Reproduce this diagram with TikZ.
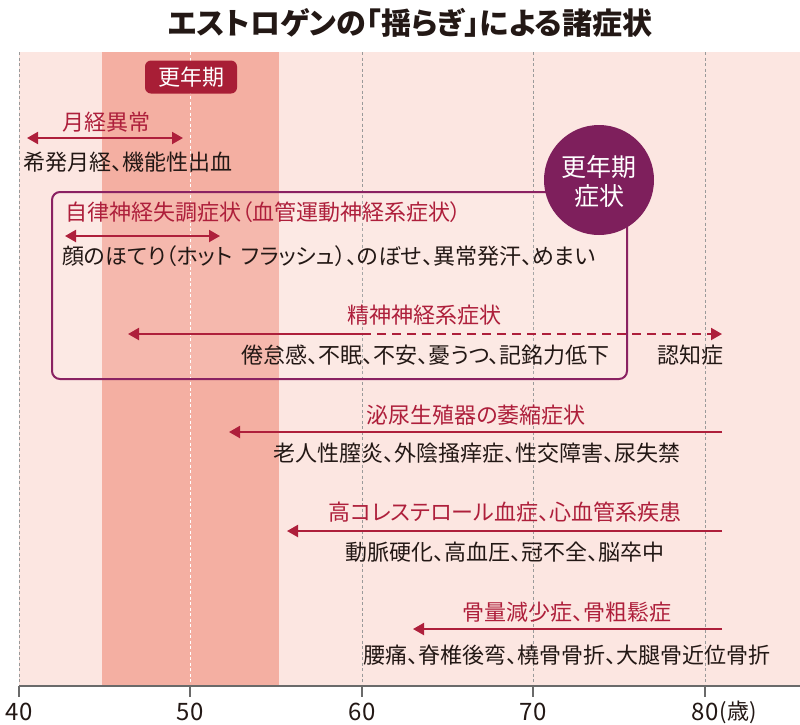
\documentclass[tikz,border=0pt]{standalone}
\usepackage{fontspec}
\setmainfont{Noto Sans CJK JP}[RawFeature=+palt]
\usetikzlibrary{arrows.meta,calc}
\definecolor{bgpink}{HTML}{FCE6E1}
\definecolor{bandc}{HTML}{F4AFA2}
\definecolor{redc}{HTML}{AE1F3B}
\definecolor{lblred}{HTML}{A81E36}
\definecolor{purp}{HTML}{7E1F5C}
\definecolor{boxc}{HTML}{8A2262}
\definecolor{txtc}{HTML}{231815}
\definecolor{gridc}{HTML}{9A9A9A}
\definecolor{axisc}{HTML}{6A6A6A}
\begin{document}
\begin{tikzpicture}[x=1pt,y=-1pt,
  body/.style={font=\fontsize{22}{26}\selectfont, text=txtc, inner sep=0pt},
  headtxt/.style={font=\fontsize{22}{26}\selectfont, text=redc, inner sep=0pt},
  arr/.style={draw=redc, line width=2pt, -{Triangle[length=11pt,width=12pt]}},
  darr/.style={draw=redc, line width=2pt, {Triangle[length=11pt,width=12pt]}-{Triangle[length=11pt,width=12pt]}},
  gridl/.style={draw=gridc, line width=0.7pt, dash pattern=on 3pt off 2.5pt},
  ticklbl/.style={font=\fontsize{24}{28}\selectfont, text=txtc, inner sep=0pt}]
\useasboundingbox (0,0) rectangle (800,724);
\fill[white] (0,0) rectangle (800,724);
% background
\fill[bgpink] (19,52) rectangle (800,686);
\fill[bandc] (102,52) rectangle (279,686);
% grid
\foreach \x in {19,362,533,705} \draw[gridl] (\x,52) -- (\x,686);
\draw[gridl, draw=white] (190,52) -- (190,686);
% title
\node[font=\fontsize{30}{34}\selectfont\bfseries, text=txtc, inner sep=0pt] (title) at (410,23) {エストロゲンの「揺らぎ」による諸症状};
% kounenki label
\node[fill=lblred, rounded corners=6pt, minimum width=92pt, minimum height=33pt, inner sep=0pt, text=white, font=\fontsize{22}{26}\selectfont] (klabel) at (191,77) {更年期};
% box
\draw[boxc, line width=2pt, rounded corners=8pt, fill=white, fill opacity=0.12] (52,192) rectangle (627,379);
\node[circle, fill=purp, minimum size=110pt, inner sep=0pt] (circ) at (599,180) {};
\node[font=\fontsize{25}{29}\selectfont, text=white, align=center, inner sep=0pt] (circtxt) at (599,181) {更年期\\症状};
% menstrual
\node[headtxt] (h1) at (106,122) {月経異常};
\coordinate (a1s) at (27,138); \coordinate (a1e) at (183,138);
\draw[darr] (a1s) -- (a1e);
\node[body, anchor=west] (t1) at (23,162) {希発月経、機能性出血};
% autonomic
\node[headtxt, anchor=west] (h2) at (65,212) {自律神経失調症状（血管運動神経系症状）};
\coordinate (a2s) at (65,236); \coordinate (a2e) at (220,236);
\draw[darr] (a2s) -- (a2e);
\node[body, anchor=west] (t2) at (62,256) {顔のほてり（ホット\hspace{9pt}フラッシュ）、のぼせ、異常発汗、めまい};
% psycho
\node[headtxt] (h3) at (424,315) {精神神経系症状};
\coordinate (a3l) at (128,334); \coordinate (a3m) at (362,334); \coordinate (a3r) at (722,334);
\draw[arr] (a3m) -- (a3l);
\draw[arr, dash pattern=on 9pt off 6pt] (a3m) -- (a3r);
\node[body, anchor=east] (t3) at (610,355) {倦怠感、不眠、不安、憂うつ、記銘力低下};
\node[body] (t3b) at (690,355) {認知症};
% urogenital
\node[headtxt] (h4) at (476,415) {泌尿生殖器の萎縮症状};
\coordinate (a4s) at (722,432); \coordinate (a4e) at (229,432);
\draw[arr] (a4s) -- (a4e);
\node[body] (t4) at (477,453) {老人性膣炎、外陰掻痒症、性交障害、尿失禁};
% cholesterol
\node[headtxt] (h5) at (505,512) {高コレステロール血症、心血管系疾患};
\coordinate (a5s) at (722,531); \coordinate (a5e) at (287,531);
\draw[arr] (a5s) -- (a5e);
\node[body] (t5) at (505,552) {動脈硬化、高血圧、冠不全、脳卒中};
% bone
\node[headtxt] (h6) at (567,612) {骨量減少症、骨粗鬆症};
\coordinate (a6s) at (722,629); \coordinate (a6e) at (413,629);
\draw[arr] (a6s) -- (a6e);
\node[body] (t6) at (567,655) {腰痛、脊椎後弯、橈骨骨折、大腿骨近位骨折};
% axis
\coordinate (ax0) at (19,686); \coordinate (ax1) at (800,686);
\draw[axisc, line width=1.3pt] (ax0) -- (ax1);
\foreach \x/\l in {19/40,190/50,362/60,533/70} {
  \draw[axisc, line width=1.3pt] (\x,686) -- (\x,697);
  \node[ticklbl] at (\x,712) {\l};
}
\draw[axisc, line width=1.3pt] (705,686) -- (705,697);
\node[ticklbl] (l80) at (705,712) {80};
\node[ticklbl, anchor=west, font=\fontsize{22}{26}\selectfont] (sai) at ([xshift=1pt]l80.east) {(歳)};
\end{tikzpicture}
\end{document}
